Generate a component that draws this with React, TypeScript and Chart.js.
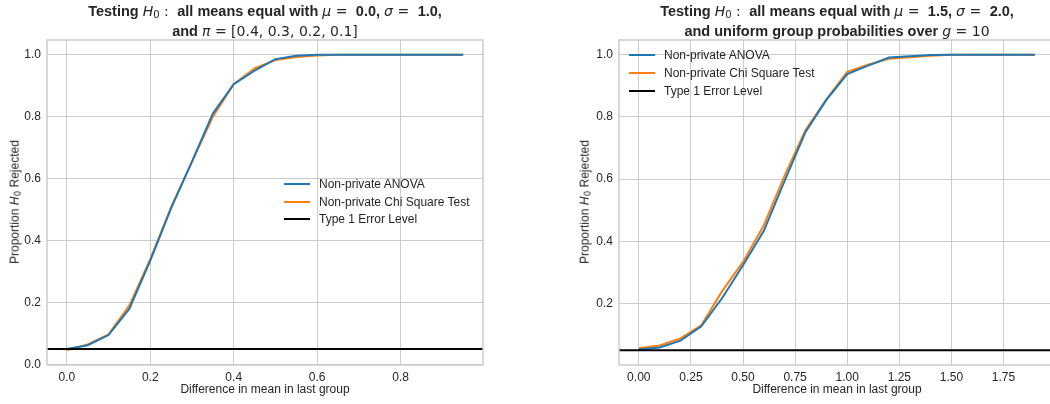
import React, { useEffect, useRef } from "react";
import { Chart, registerables } from "chart.js";

Chart.register(...registerables);

// ---------- data ----------
const LEFT_DIFFS = [0, 0.05, 0.1, 0.15, 0.2, 0.25, 0.3, 0.35, 0.4, 0.45, 0.5, 0.55, 0.6, 0.65, 0.7, 0.75, 0.8, 0.85, 0.9, 0.95];
const LEFT_ANOVA = [0.05, 0.062, 0.095, 0.18, 0.335, 0.505, 0.655, 0.81, 0.905, 0.949, 0.986, 0.997, 1, 1, 1, 1, 1, 1, 1, 1];
const LEFT_CHI = [0.046, 0.065, 0.097, 0.191, 0.34, 0.508, 0.655, 0.8, 0.905, 0.956, 0.983, 0.993, 0.998, 1, 1, 1, 1, 1, 1, 1];

const RIGHT_DIFFS = [0, 0.1, 0.2, 0.3, 0.4, 0.5, 0.6, 0.7, 0.8, 0.9, 1.0, 1.1, 1.2, 1.3, 1.4, 1.5, 1.6, 1.7, 1.8, 1.9];
const RIGHT_ANOVA = [0.052, 0.059, 0.081, 0.127, 0.218, 0.323, 0.434, 0.595, 0.752, 0.855, 0.938, 0.965, 0.991, 0.995, 0.999, 1, 1, 1, 1, 1];
const RIGHT_CHI = [0.056, 0.065, 0.088, 0.13, 0.24, 0.334, 0.452, 0.612, 0.758, 0.857, 0.945, 0.968, 0.987, 0.992, 0.997, 1, 1, 1, 1, 1];

const TYPE1_LEVEL = 0.05;

const LEFT_X_TICKS = [0, 0.2, 0.4, 0.6, 0.8];
const LEFT_Y_TICKS = [0, 0.2, 0.4, 0.6, 0.8, 1.0];
const RIGHT_X_TICKS = [0, 0.25, 0.5, 0.75, 1.0, 1.25, 1.5, 1.75];
const RIGHT_Y_TICKS = [0.2, 0.4, 0.6, 0.8, 1.0];

const SERIES_LABELS = ["Non-private ANOVA", "Non-private Chi Square Test", "Type 1 Error Level"];

// ---------- styles ----------
const BLUE = "#1f77b4";
const ORANGE = "#ff7f0e";
const BLACK = "#000000";
const GRID = "#cccccc";
const TEXT = "#262626";
const SANS = "'Liberation Sans', Arial, sans-serif";
const MATH = "'DejaVu Sans', sans-serif";

function paddedRange(values: number[]) {
  const lo = Math.min(...values);
  const hi = Math.max(...values);
  const m = (hi - lo) * 0.05;
  return [lo - m, hi + m];
}

const framePlugin = {
  id: "frameAndLevel",
  afterDatasetsDraw(chart: any) {
    const { ctx, chartArea, scales } = chart;
    const y = scales.y.getPixelForValue(TYPE1_LEVEL);
    ctx.save();
    ctx.beginPath();
    ctx.rect(chartArea.left, chartArea.top, chartArea.right - chartArea.left, chartArea.bottom - chartArea.top);
    ctx.clip();
    ctx.strokeStyle = BLACK;
    ctx.lineWidth = 2;
    ctx.beginPath();
    ctx.moveTo(chartArea.left, y);
    ctx.lineTo(chartArea.right, y);
    ctx.stroke();
    ctx.restore();
    ctx.save();
    ctx.strokeStyle = GRID;
    ctx.lineWidth = 1.5;
    ctx.strokeRect(chartArea.left, chartArea.top, chartArea.right - chartArea.left, chartArea.bottom - chartArea.top);
    ctx.restore();
  },
};

type PanelProps = {
  diffs: number[];
  anova: number[];
  chi: number[];
  xTicks: number[];
  yTicks: number[];
  xDecimals: number;
  left: number;
  width: number;
  padding: { left: number; right: number; top: number; bottom: number };
};

function Panel(props: PanelProps) {
  const ref = useRef<HTMLCanvasElement | null>(null);
  useEffect(() => {
    if (!ref.current) return;
    const [xMin, xMax] = paddedRange(props.diffs);
    const [yMin, yMax] = paddedRange([...props.anova, ...props.chi, TYPE1_LEVEL]);
    const tickFont = { family: SANS, size: 12 };
    const chart = new Chart(ref.current, {
      type: "line",
      data: {
        datasets: [
          {
            label: SERIES_LABELS[0],
            data: props.diffs.map((x, i) => ({ x, y: props.anova[i] })),
            borderColor: BLUE,
            borderWidth: 2,
            pointRadius: 0,
            tension: 0,
            fill: false,
          },
          {
            label: SERIES_LABELS[1],
            data: props.diffs.map((x, i) => ({ x, y: props.chi[i] })),
            borderColor: ORANGE,
            borderWidth: 2,
            pointRadius: 0,
            tension: 0,
            fill: false,
          },
        ],
      },
      options: {
        animation: false,
        responsive: false,
        devicePixelRatio: 1,
        layout: { padding: props.padding },
        plugins: { legend: { display: false }, title: { display: false }, tooltip: { enabled: false } },
        scales: {
          x: {
            type: "linear",
            min: xMin,
            max: xMax,
            grid: { color: GRID, lineWidth: 1, drawTicks: false },
            border: { display: false },
            ticks: {
              padding: 5,
              color: TEXT,
              font: tickFont,
              autoSkip: false,
              maxRotation: 0,
              callback: (v: any) => Number(v).toFixed(props.xDecimals),
            },
            afterBuildTicks: (s: any) => {
              s.ticks = props.xTicks.map((v) => ({ value: v }));
            },
            afterFit: (s: any) => {
              s.height = 30;
            },
          },
          y: {
            type: "linear",
            min: yMin,
            max: yMax,
            grid: { color: GRID, lineWidth: 1, drawTicks: false },
            border: { display: false },
            ticks: {
              padding: 6,
              color: TEXT,
              font: tickFont,
              autoSkip: false,
              callback: (v: any) => Number(v).toFixed(1),
            },
            afterBuildTicks: (s: any) => {
              s.ticks = props.yTicks.map((v) => ({ value: v }));
            },
            afterFit: (s: any) => {
              s.width = 40;
            },
          },
        },
      },
      plugins: [framePlugin],
    } as any);
    return () => chart.destroy();
  }, []);
  return (
    <canvas
      ref={ref}
      width={props.width}
      height={404}
      style={{ position: "absolute", left: props.left, top: 0, width: props.width, height: 404 }}
    />
  );
}

const mathI: React.CSSProperties = { fontFamily: MATH, fontStyle: "italic", fontWeight: "normal", fontSize: 14 };
const mathR: React.CSSProperties = { fontFamily: MATH, fontWeight: "normal", fontSize: 14 };
const subS: React.CSSProperties = { fontFamily: MATH, fontWeight: "normal", fontSize: 10, verticalAlign: "-0.2em" };

function Title({ center, children }: { center: number; children: React.ReactNode }) {
  return (
    <div
      style={{
        position: "absolute",
        left: center - 300,
        width: 600,
        top: 3,
        textAlign: "center",
        fontFamily: SANS,
        fontWeight: "bold",
        fontSize: 14.5,
        lineHeight: "16px",
        color: TEXT,
        whiteSpace: "pre",
      }}
    >
      {children}
    </div>
  );
}

function YLabel({ x, y }: { x: number; y: number }) {
  return (
    <div
      style={{
        position: "absolute",
        left: x,
        top: y,
        transform: "translate(-50%, -50%) rotate(-90deg)",
        fontFamily: SANS,
        fontSize: 12,
        color: TEXT,
        whiteSpace: "nowrap",
      }}
    >
      Proportion <span style={{ ...mathI, fontSize: 12 }}>H</span>
      <span style={{ ...subS, fontSize: 8.5 }}>0</span> Rejected
    </div>
  );
}

function XLabel({ center }: { center: number }) {
  return (
    <div
      style={{
        position: "absolute",
        left: center - 200,
        width: 400,
        top: 382,
        textAlign: "center",
        fontFamily: SANS,
        fontSize: 12,
        lineHeight: "14px",
        color: TEXT,
      }}
    >
      Difference in mean in last group
    </div>
  );
}

function Legend({ x, y, gap }: { x: number; y: number; gap: number }) {
  const colors = [BLUE, ORANGE, BLACK];
  return (
    <>
      {SERIES_LABELS.map((label, i) => (
        <div
          key={label}
          style={{
            position: "absolute",
            left: x,
            top: y + i * gap - 7,
            height: 14,
            display: "flex",
            alignItems: "center",
            fontFamily: SANS,
            fontSize: 12,
            color: TEXT,
            whiteSpace: "nowrap",
          }}
        >
          <span style={{ display: "inline-block", width: 26, height: 2, background: colors[i], marginRight: 9 }} />
          {label}
        </div>
      ))}
    </>
  );
}

export default function App() {
  return (
    <div
      style={{
        position: "fixed",
        left: 0,
        top: 0,
        width: 1050,
        height: 404,
        overflow: "hidden",
        background: "#ffffff",
      }}
    >
      <Panel
        diffs={LEFT_DIFFS}
        anova={LEFT_ANOVA}
        chi={LEFT_CHI}
        xTicks={LEFT_X_TICKS}
        yTicks={LEFT_Y_TICKS}
        xDecimals={1}
        left={0}
        width={525}
        padding={{ left: 7, right: 42, top: 40, bottom: 9 }}
      />
      <Panel
        diffs={RIGHT_DIFFS}
        anova={RIGHT_ANOVA}
        chi={RIGHT_CHI}
        xTicks={RIGHT_X_TICKS}
        yTicks={RIGHT_Y_TICKS}
        xDecimals={2}
        left={540}
        width={560}
        padding={{ left: 39, right: 45.4, top: 40, bottom: 9 }}
      />
      <Title center={265}>
        {"Testing "}
        <span style={mathI}>H</span>
        <span style={subS}>0</span>
        <span style={mathR}>{" : "}</span>
        {" all means equal with "}
        <span style={mathI}>μ</span>
        <span style={mathR}>{" = "}</span>
        {" 0.0, "}
        <span style={mathI}>σ</span>
        <span style={mathR}>{" = "}</span>
        {" 1.0,"}
        {"\n"}
        {"and "}
        <span style={mathI}>π</span>
        <span style={mathR}>{" = [0.4, 0.3, 0.2, 0.1]"}</span>
      </Title>
      <Title center={837}>
        {"Testing "}
        <span style={mathI}>H</span>
        <span style={subS}>0</span>
        <span style={mathR}>{" : "}</span>
        {" all means equal with "}
        <span style={mathI}>μ</span>
        <span style={mathR}>{" = "}</span>
        {" 1.5, "}
        <span style={mathI}>σ</span>
        <span style={mathR}>{" = "}</span>
        {" 2.0,"}
        {"\n"}
        {"and uniform group probabilities over "}
        <span style={mathI}>g</span>
        <span style={mathR}>{" = 10"}</span>
      </Title>
      <YLabel x={15} y={202} />
      <YLabel x={585} y={202} />
      <XLabel center={265} />
      <XLabel center={837} />
      <Legend x={284} y={184} gap={17.5} />
      <Legend x={629} y={55.3} gap={17.7} />
    </div>
  );
}
